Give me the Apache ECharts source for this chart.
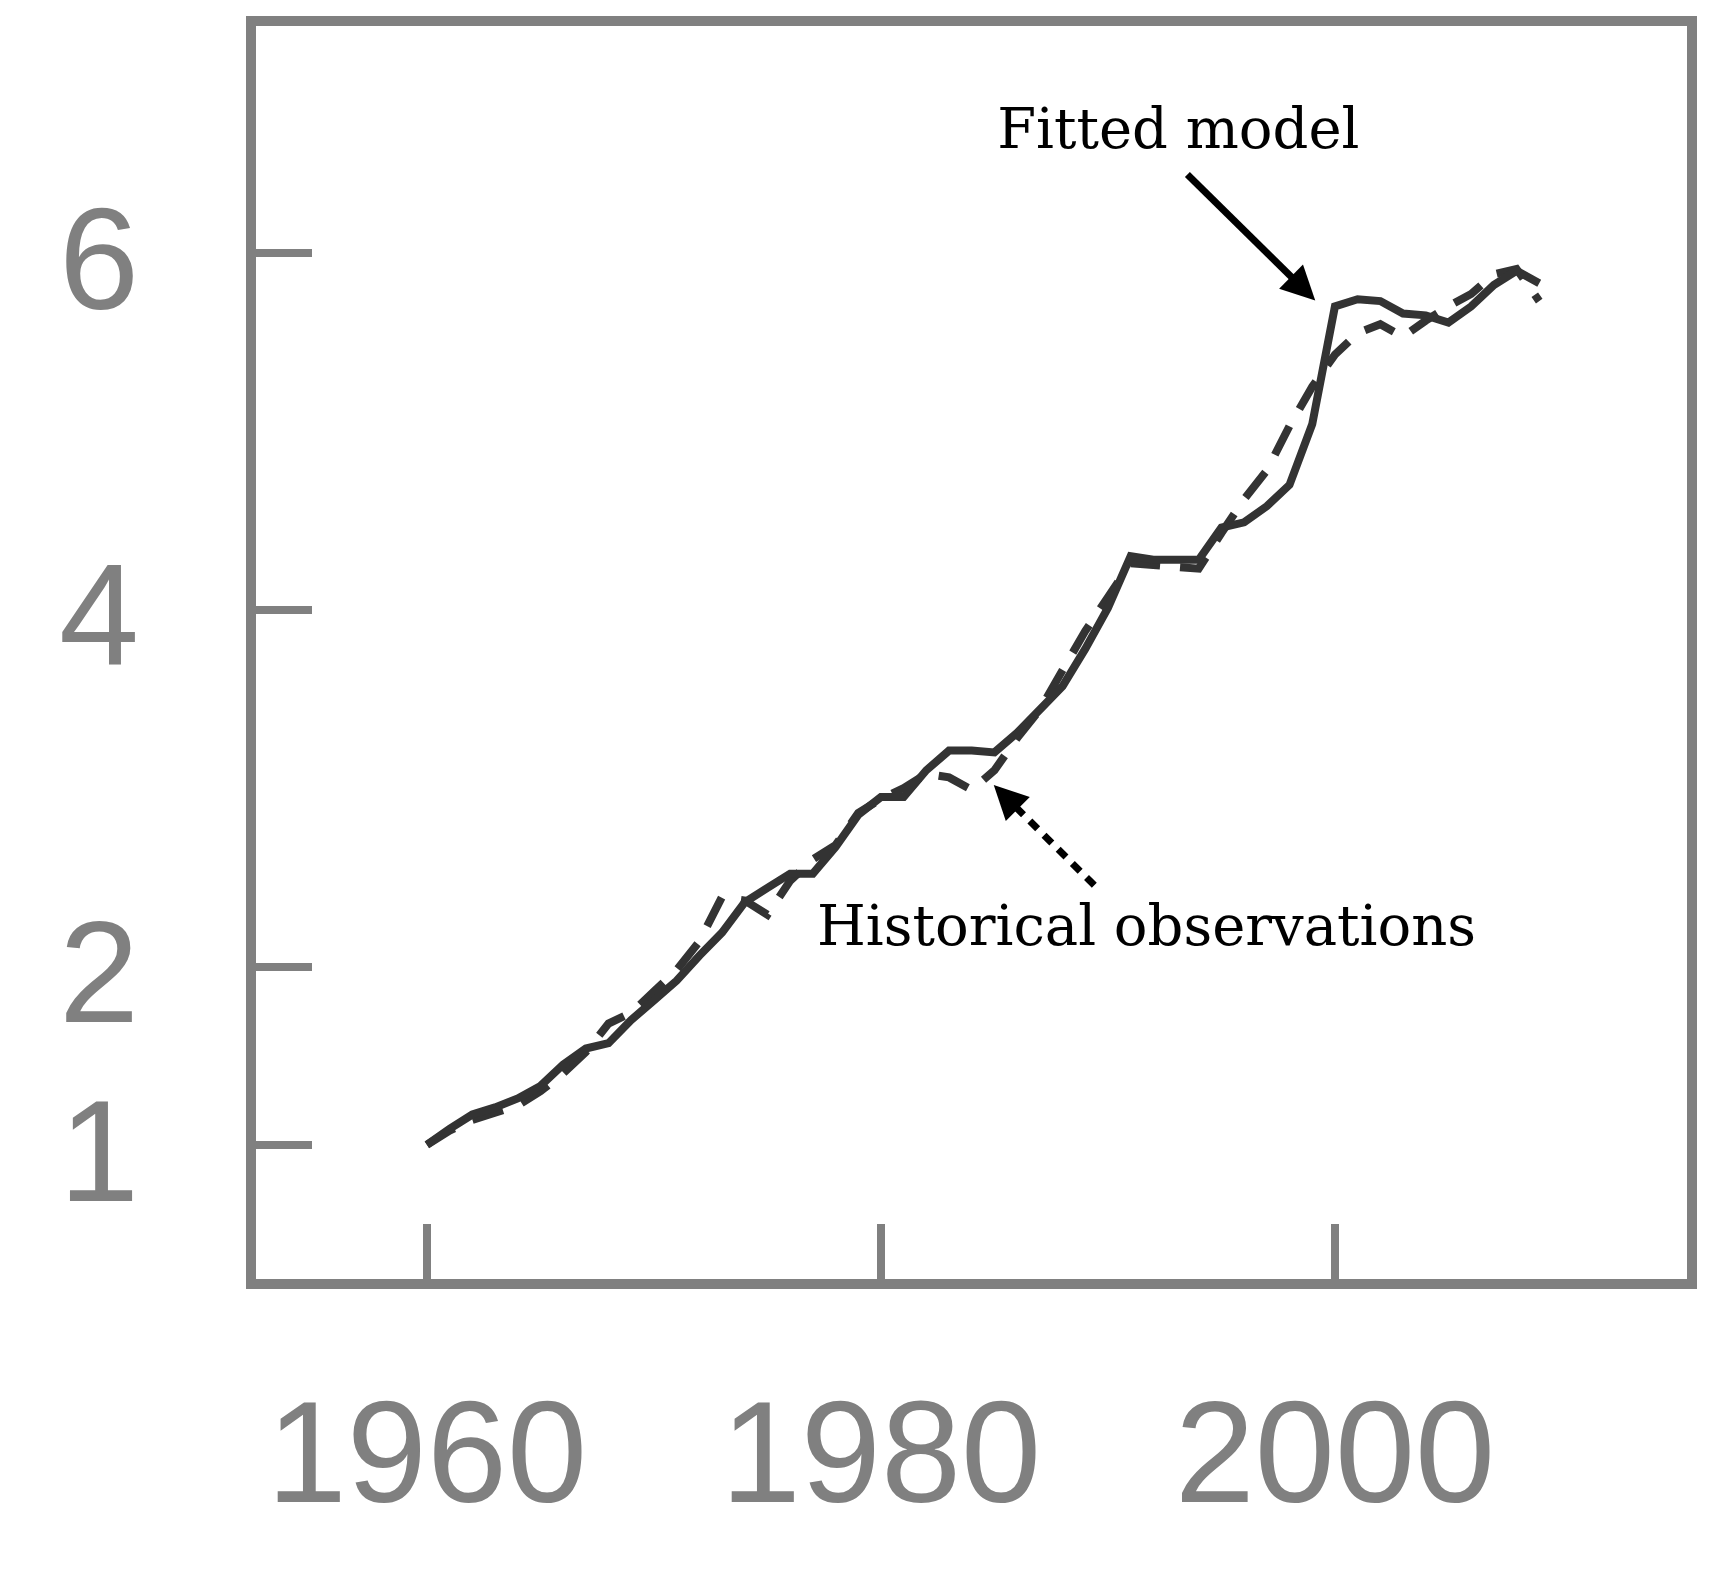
<!DOCTYPE html>
<html>
<head>
<meta charset="utf-8">
<script src="https://cdn.jsdelivr.net/npm/echarts@6/dist/echarts.min.js"></script>
<style>
  html, body { margin: 0; padding: 0; background: #fff; }
  #main { width: 1724px; height: 1596px; }
</style>
</head>
<body>
<div id="main"></div>
<script>
// years on the x axis
var years = [1960, 1961, 1962, 1963, 1964, 1965, 1966, 1967, 1968, 1969,
    1970, 1971, 1972, 1973, 1974, 1975, 1976, 1977, 1978, 1979,
    1980, 1981, 1982, 1983, 1984, 1985, 1986, 1987, 1988, 1989,
    1990, 1991, 1992, 1993, 1994, 1995, 1996, 1997, 1998, 1999,
    2000, 2001, 2002, 2003, 2004, 2005, 2006, 2007, 2008, 2009];

// solid line
var fitted = [1.00, 1.09, 1.17, 1.21, 1.26, 1.33, 1.45, 1.54, 1.57, 1.70,
    1.81, 1.92, 2.06, 2.19, 2.36, 2.44, 2.52, 2.52, 2.67, 2.85,
    2.95, 2.95, 3.10, 3.21, 3.21, 3.20, 3.31, 3.44, 3.57, 3.78,
    4.01, 4.30, 4.28, 4.28, 4.28, 4.46, 4.49, 4.58, 4.70, 5.04,
    5.70, 5.74, 5.73, 5.66, 5.65, 5.61, 5.70, 5.82, 5.90, 5.83];

// dashed line
var observed = [1.00, 1.08, 1.14, 1.18, 1.22, 1.30, 1.40, 1.52, 1.68, 1.74,
    1.86, 1.98, 2.14, 2.39, 2.37, 2.29, 2.48, 2.60, 2.68, 2.86,
    2.94, 3.00, 3.08, 3.06, 2.99, 3.10, 3.28, 3.44, 3.66, 3.88,
    4.07, 4.26, 4.25, 4.24, 4.23, 4.43, 4.62, 4.78, 5.03, 5.25,
    5.43, 5.55, 5.60, 5.53, 5.62, 5.70, 5.77, 5.88, 5.91, 5.73];

var xTicks = [1960, 1980, 2000];
var yTicks = [1, 2, 4, 6];

// annotation positions in data units [year, value]
var fittedArrow = [[1993.5, 6.44], [1998.6, 5.80]];
var histArrow = [[1989.4, 2.455], [1985.5, 2.95]];
var fittedText = [1993.1, 6.67];
var histText = [1991.7, 2.20];

var grey = '#808080';
var ink = '#333333';

function pairs(a, b) {
    var out = [];
    for (var i = 0; i < a.length; i++) {
        out.push([a[i], b[i]]);
    }
    return out;
}

function arrow(ends, dash) {
    var ls = { color: '#000', width: 7, type: dash };
    return [
        { coord: ends[0], symbol: 'none', lineStyle: ls, itemStyle: { color: '#000' } },
        { coord: ends[1], symbol: 'triangle', symbolSize: 34, lineStyle: ls, itemStyle: { color: '#000' } }
    ];
}

var myChart = echarts.init(document.getElementById('main'), null, { renderer: 'canvas' });

var labelFont = 'Liberation Sans, Arial, sans-serif';

var option = {
    animation: false,
    backgroundColor: '#ffffff',
    grid: {
        left: 251, right: 32, top: 21, bottom: 312,
        show: true,
        borderColor: grey,
        borderWidth: 10,
        backgroundColor: 'transparent'
    },
    xAxis: {
        type: 'value',
        min: 1952.25,
        max: 2015.73,
        axisLine: { show: false },
        splitLine: { show: false },
        axisTick: {
            show: true,
            inside: true,
            length: 60,
            customValues: xTicks,
            lineStyle: { color: grey, width: 8 }
        },
        axisLabel: {
            show: true,
            customValues: xTicks,
            margin: 106,
            color: grey,
            fontSize: 144,
            lineHeight: 144,
            fontFamily: labelFont,
            formatter: function (v) { return String(v); }
        }
    },
    yAxis: {
        type: 'value',
        min: 0.22,
        max: 7.30,
        axisLine: { show: false },
        splitLine: { show: false },
        axisTick: {
            show: true,
            inside: true,
            length: 61,
            customValues: yTicks,
            lineStyle: { color: grey, width: 8 }
        },
        axisLabel: {
            show: true,
            customValues: yTicks,
            margin: 112,
            color: grey,
            fontSize: 144,
            // small line box hung from the tick, so the digit sits a bit lower
            lineHeight: 32,
            verticalAlign: 'top',
            fontFamily: labelFont,
            formatter: function (v) { return String(v); }
        }
    },
    series: [
        {
            name: 'Historical observations',
            type: 'line',
            data: pairs(years, observed),
            symbol: 'none',
            lineStyle: { color: ink, width: 8, type: [32, 20], cap: 'butt', join: 'miter' },
            z: 2
        },
        {
            name: 'Fitted model',
            type: 'line',
            data: pairs(years, fitted),
            symbol: 'none',
            lineStyle: { color: ink, width: 8, type: 'solid', join: 'miter' },
            z: 3,
            markLine: {
                silent: true,
                symbol: ['none', 'triangle'],
                symbolSize: 34,
                label: { show: false },
                emphasis: { disabled: true },
                itemStyle: { color: '#000' },
                lineStyle: { color: '#000' },
                data: [
                    arrow(fittedArrow, 'solid'),
                    arrow(histArrow, [11, 9])
                ]
            }
        }
    ]
};

myChart.setOption(option);

// text labels next to the arrows
var p1 = myChart.convertToPixel({ gridIndex: 0 }, fittedText);
var p2 = myChart.convertToPixel({ gridIndex: 0 }, histText);
myChart.setOption({
    graphic: [
        {
            type: 'text', x: p1[0], y: p1[1], z: 10,
            style: {
                text: 'Fitted model', fill: '#000',
                font: '56px "DejaVu Serif", serif',
                textAlign: 'center', textVerticalAlign: 'middle'
            }
        },
        {
            type: 'text', x: p2[0], y: p2[1], z: 10,
            style: {
                text: 'Historical observations', fill: '#000',
                font: '56px "DejaVu Serif", serif',
                textAlign: 'center', textVerticalAlign: 'middle'
            }
        }
    ]
});
</script>
</body>
</html>
